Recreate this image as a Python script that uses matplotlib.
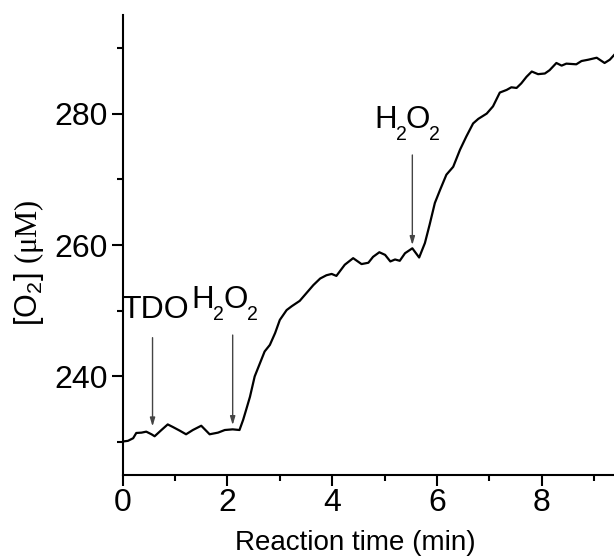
import matplotlib
matplotlib.use("Agg")
import matplotlib.pyplot as plt

plt.rcParams['font.family'] = ['Liberation Sans', 'DejaVu Sans']
plt.rcParams['mathtext.fontset'] = 'custom'
plt.rcParams['mathtext.rm'] = 'Liberation Serif'
plt.rcParams['mathtext.sf'] = 'Liberation Sans'
plt.rcParams['mathtext.it'] = 'Liberation Sans:italic'

# Reaction time (min)
time_min = [0.00, 0.10, 0.20, 0.26, 0.36, 0.45, 0.55, 0.61, 0.74, 0.86, 0.96,
            1.09, 1.21, 1.34, 1.50, 1.58, 1.66, 1.82, 1.95, 2.10, 2.23, 2.30,
            2.36, 2.43, 2.52, 2.62, 2.71, 2.81, 2.91, 3.00, 3.13, 3.23, 3.38,
            3.51, 3.64, 3.77, 3.89, 3.99, 4.08, 4.24, 4.40, 4.56, 4.69, 4.78,
            4.90, 5.01, 5.11, 5.20, 5.29, 5.39, 5.53, 5.66, 5.77, 5.86, 5.96,
            6.06, 6.18, 6.31, 6.44, 6.56, 6.69, 6.79, 6.95, 7.07, 7.20, 7.33,
            7.42, 7.52, 7.61, 7.71, 7.81, 7.93, 8.06, 8.15, 8.28, 8.38, 8.47,
            8.66, 8.76, 8.89, 9.05, 9.20, 9.30, 9.38]
# [O2] (uM)
o2_uM = [230.1, 230.2, 230.6, 231.4, 231.45, 231.6, 231.2, 230.9, 231.85, 232.7, 232.3,
         231.75, 231.2, 231.85, 232.5, 231.85, 231.2, 231.45, 231.85, 231.95, 231.85, 233.4,
         235.0, 236.9, 240.0, 242.0, 243.8, 244.8, 246.6, 248.6, 250.1, 250.7, 251.5,
         252.7, 253.9, 254.9, 255.4, 255.6, 255.3, 257.0, 258.0, 257.1, 257.3, 258.2,
         258.9, 258.5, 257.5, 257.8, 257.6, 258.75, 259.5, 258.1, 260.3, 263.1, 266.4,
         268.4, 270.7, 271.9, 274.5, 276.5, 278.5, 279.2, 280.0, 281.1, 283.2, 283.6,
         284.0, 283.9, 284.6, 285.6, 286.4, 286.0, 286.1, 286.6, 287.7, 287.3, 287.6,
         287.5, 288.0, 288.2, 288.5, 287.7, 288.2, 288.9]

# annotations: arrow x, arrow top, arrow tip
ann_x = [0.57, 2.10, 5.53]
ann_y_start = [245.9, 246.3, 273.7]
ann_y_tip = [232.4, 232.6, 260.0]
# labels: pieces (text, is_subscript), text x, baseline y
ann_pieces = [[('TDO', False)],
              [('H', False), ('2', True), ('O', False), ('2', True)],
              [('H', False), ('2', True), ('O', False), ('2', True)]]
ann_text_x = [-0.02, 1.32, 4.80]
ann_text_y = [248.9, 250.4, 277.8]

xticks = [0, 2, 4, 6, 8]
yticks = [240, 260, 280]

fig = plt.figure(figsize=(6.14, 5.58), dpi=100)
ax = fig.add_axes([0.1998, 0.1487, 0.8002, 0.8244])
ax.plot(time_min, o2_uM, color='black', lw=1.6)

ax.set_xlim(0, 9.38)
ax.set_ylim(225, 295)
ax.set_xticks(xticks)
ax.set_xticks([1, 3, 5, 7, 9], minor=True)
ax.set_yticks(yticks)
ax.set_yticks([230, 250, 270, 290], minor=True)
ax.spines['top'].set_visible(False)
ax.spines['right'].set_visible(False)
for s in ['left', 'bottom']:
    ax.spines[s].set_linewidth(1.5)
ax.tick_params(which='major', direction='out', length=8, width=1.5, labelsize=23)
ax.tick_params(axis='x', which='major', pad=1.5)
ax.tick_params(axis='y', which='major', pad=3.0)
ax.tick_params(which='minor', direction='out', length=4, width=1.5)

for x, y0, y1 in zip(ann_x, ann_y_start, ann_y_tip):
    ax.annotate('', xy=(x, y1), xytext=(x, y0),
                arrowprops=dict(arrowstyle='-|>,head_length=0.5,head_width=0.15',
                                color='#444444', lw=1.0, shrinkA=0, shrinkB=0))

renderer = fig.canvas.get_renderer()
for pieces, tx, ty in zip(ann_pieces, ann_text_x, ann_text_y):
    dx = 0.0
    for s, sub in pieces:
        if s == 'TDO':
            size, dy = 23, 0
        elif sub:
            size, dy = 22 * 0.64, -12
        else:
            size, dy = 22.5, 0
        t = ax.annotate(s, xy=(tx, ty), xytext=(dx, dy), textcoords='offset pixels',
                        fontsize=size, ha='left', va='baseline', annotation_clip=False)
        bb = t.get_window_extent(renderer)
        dx += bb.width - (1.0 if not sub else 0.5)

fig.text(0.578, 0.0143, 'Reaction time (min)', fontsize=20, ha='center', va='baseline')
fig.text(0.048, 0.529, r'[O$_\mathsf{2}$] $\mathrm{(\mu M)}$', fontsize=22, rotation=90,
         ha='center', va='center')

fig.savefig('out.png', dpi=100)
